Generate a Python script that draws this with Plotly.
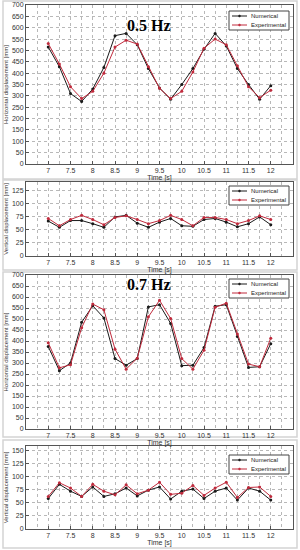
import plotly.graph_objects as go

time_s = [7.0, 7.25, 7.5, 7.75, 8.0, 8.25, 8.5, 8.75, 9.0, 9.25, 9.5, 9.75,
          10.0, 10.25, 10.5, 10.75, 11.0, 11.25, 11.5, 11.75, 12.0]

# 0.5 Hz - horizontal displacement [mm]
h05_num = [515, 428, 310, 275, 330, 425, 565, 575, 525, 420, 335, 285,
           350, 420, 505, 575, 520, 420, 350, 285, 345]
h05_exp = [530, 440, 340, 288, 320, 400, 515, 545, 528, 428, 333, 288,
           320, 405, 510, 550, 525, 432, 340, 292, 325]
# 0.5 Hz - vertical displacement [mm]
v05_num = [67, 55, 68, 68, 62, 55, 75, 78, 63, 55, 65, 72,
           58, 57, 70, 72, 65, 56, 62, 75, 60]
v05_exp = [72, 58, 70, 78, 70, 60, 74, 77, 70, 62, 68, 78,
           70, 58, 74, 74, 70, 62, 68, 77, 70]
# 0.7 Hz - horizontal displacement [mm]
h07_num = [375, 265, 300, 485, 560, 505, 320, 290, 320, 555, 565, 480,
           288, 290, 370, 558, 565, 420, 280, 283, 388]
h07_exp = [392, 278, 292, 460, 568, 542, 363, 272, 322, 510, 585, 502,
           320, 272, 358, 553, 572, 432, 295, 283, 413]
# 0.7 Hz - vertical displacement [mm]
v07_num = [58, 85, 72, 62, 80, 62, 67, 78, 63, 74, 80, 57,
           72, 76, 58, 72, 78, 55, 78, 72, 55]
v07_exp = [62, 88, 78, 62, 85, 72, 65, 84, 67, 74, 89, 66,
           68, 83, 64, 78, 89, 60, 79, 80, 62]

series_names = ["Numerical", "Experimental"]
panel_titles = ["0.5 Hz", "0.7 Hz"]
x_ticks = [7, 7.5, 8, 8.5, 9, 9.5, 10, 10.5, 11, 11.5, 12]
x_tick_text = ["7", "7.5", "8", "8.5", "9", "9.5", "10", "10.5", "11", "11.5", "12"]

W, H = 300, 550
BLACK = "#1a1a1a"
RED = "#c02a3c"
COLORS = [BLACK, RED]
FONT = "Liberation Sans"


def px(p):
    return p / W


def py(p):
    return 1 - p / H


panels = [
    # (num, exp, ytop_px, ybot_px, yrange, ydtick, ylabel, legend top px)
    (h05_num, h05_exp, 5, 164, [0, 700], 50, "Horizontal displacement [mm]", 11),
    (v05_num, v05_exp, 182, 256, [0, 142], 25, "Vertical displacement [mm]", 186),
    (h07_num, h07_exp, 275, 429, [0, 700], 50, "Horizontal displacement [mm]", 279),
    (v07_num, v07_exp, 446, 529, [0, 158], 25, "Vertical displacement [mm]", 455),
]

fig = go.Figure()
layout = {}
shapes = []
annotations = []
for i, (num, exp, yt, yb, yr, ydt, ylab, legtop) in enumerate(panels):
    k = "" if i == 0 else str(i + 1)
    for name, vals, col in zip(series_names, [num, exp], COLORS):
        fig.add_trace(go.Scatter(x=time_s, y=vals, name=name, mode="lines+markers",
                                 line=dict(color=col, width=1), marker=dict(size=3, color=col),
                                 xaxis="x" + k, yaxis="y" + k, showlegend=False))
    layout["xaxis" + k] = dict(
        domain=[px(26), px(293)], range=[6.5, 12.5], anchor="y" + k,
        tickmode="array", tickvals=x_ticks, ticktext=x_tick_text,
        showgrid=True, gridcolor="#b8b8b8", griddash="dot", gridwidth=1,
        minor=dict(dtick=0.25, tick0=6.5, showgrid=True, gridcolor="#b8b8b8", griddash="dot"),
        showline=True, linecolor="#555555", linewidth=1, mirror=True,
        ticks="inside", ticklen=3, tickcolor="#555555",
        tickfont=dict(family=FONT, size=7, color="#333333"),
        title=dict(text="Time [s]", font=dict(family=FONT, size=7, color="#333333"), standoff=0),
        zeroline=False,
    )
    layout["yaxis" + k] = dict(
        domain=[py(yb), py(yt)], range=yr, anchor="x" + k, dtick=ydt, tick0=0,
        showgrid=True, gridcolor="#b8b8b8", griddash="dot", gridwidth=1,
        showline=True, linecolor="#555555", linewidth=1, mirror=True,
        ticks="inside", ticklen=3, tickcolor="#555555",
        tickfont=dict(family=FONT, size=7, color="#333333"),
        title=dict(text=ylab, font=dict(family=FONT, size=6, color="#333333"), standoff=2),
        zeroline=False,
    )
    # legend box (drawn manually so it can be as compact as the original)
    lx0, lx1 = 229, 289
    shapes.append(dict(type="rect", xref="paper", yref="paper",
                       x0=px(lx0), x1=px(lx1), y0=py(legtop + 19), y1=py(legtop),
                       fillcolor="white", line=dict(color="#444444", width=1), layer="above"))
    for j, (name, col) in enumerate(zip(series_names, COLORS)):
        ry = legtop + 5 + j * 9
        shapes.append(dict(type="line", xref="paper", yref="paper",
                           x0=px(232), x1=px(247), y0=py(ry), y1=py(ry),
                           line=dict(color=col, width=1), layer="above"))
        shapes.append(dict(type="circle", xref="paper", yref="paper",
                           x0=px(238.5), x1=px(240.5), y0=py(ry + 1), y1=py(ry - 1),
                           fillcolor=col, line=dict(color=col, width=0.5), layer="above"))
        annotations.append(dict(text=name, x=px(249), y=py(ry), xref="paper", yref="paper",
                                xanchor="left", yanchor="middle", showarrow=False,
                                font=dict(family=FONT, size=6, color="#222222")))

frames = [(1, 179), (180, 270), (272, 437), (440, 548)]
for (t, b) in frames:
    shapes.append(dict(type="rect", xref="paper", yref="paper",
                       x0=px(3), x1=px(297), y0=py(b), y1=py(t),
                       line=dict(color="#d4d4d4", width=1.5), layer="below"))

for title, ty in zip(panel_titles, [15, 284]):
    annotations.append(dict(text="<b>" + title + "</b>", x=px(149), y=py(ty),
                            xref="paper", yref="paper", showarrow=False,
                            font=dict(family="Liberation Serif", size=16, color="black")))

fig.update_layout(
    width=W, height=H, margin=dict(l=0, r=0, t=0, b=0, autoexpand=False),
    paper_bgcolor="white", plot_bgcolor="white", showlegend=False,
    shapes=shapes, annotations=annotations, **layout,
)
fig.write_html("out.html", config={"displayModeBar": False},
               post_script="document.body.style.margin='0';")
